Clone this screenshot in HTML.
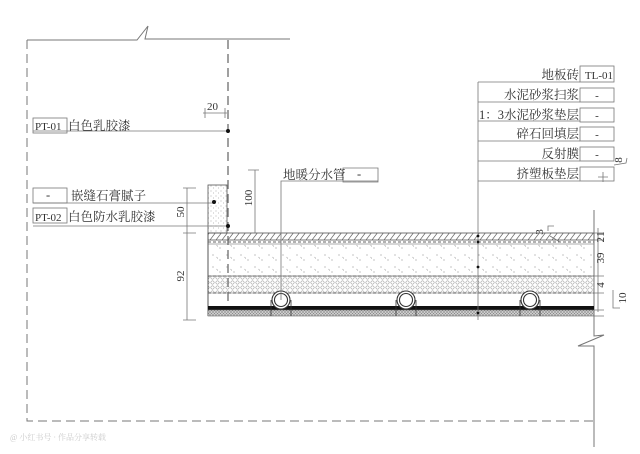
<!DOCTYPE html><html><head><meta charset="utf-8"><style>html,body{margin:0;padding:0;background:#fff}svg{display:block}text{font-family:"Liberation Serif","Noto Serif CJK SC",serif;fill:#333}</style></head><body>
<svg width="640" height="454" viewBox="0 0 640 454" xmlns="http://www.w3.org/2000/svg">
<defs>
<pattern id="hat" width="6" height="8" patternUnits="userSpaceOnUse"><path d="M0 8L6 0" stroke="#666" stroke-width="0.7"/></pattern>
<pattern id="dots" width="14" height="12" patternUnits="userSpaceOnUse"><circle cx="3" cy="3" r="0.6" fill="#999"/><circle cx="10" cy="8" r="0.6" fill="#999"/><path d="M6 5l2 1-1 1" stroke="#aaa" fill="none" stroke-width="0.5"/></pattern>
<pattern id="circ" width="5" height="5" patternUnits="userSpaceOnUse"><circle cx="2.5" cy="2.5" r="1.7" fill="none" stroke="#888" stroke-width="0.5"/></pattern>
<pattern id="xps" width="3" height="3" patternUnits="userSpaceOnUse"><rect width="3" height="3" fill="#ccc"/><path d="M0 3L3 0M0 0L3 3" stroke="#888" stroke-width="0.5"/></pattern>
<pattern id="sk" width="5" height="5" patternUnits="userSpaceOnUse"><circle cx="1" cy="1" r="0.5" fill="#999"/><circle cx="3.5" cy="3" r="0.5" fill="#aaa"/></pattern>
</defs>
<g stroke="#777" fill="none" stroke-width="1">
<path d="M27 40H137L148 26L145 39H290"/>
<path d="M27 40V421H594" stroke-dasharray="9,5"/>
<path d="M228 40V320" stroke-dasharray="9,5" stroke-width="1.4"/>
<path d="M594 210V336L604 335L578 346L594 346V447"/>
</g>
<rect x="208" y="233" width="386" height="7" fill="url(#hat)" stroke="#555" stroke-width="0.8"/>
<line x1="208" y1="242" x2="594" y2="242" stroke="#666" stroke-dasharray="3,2"/>
<rect x="208" y="244" width="386" height="32" fill="url(#dots)" stroke="#777" stroke-width="0.6"/>
<rect x="208" y="276" width="386" height="17" fill="url(#circ)" stroke="#777" stroke-width="0.6"/>
<line x1="208" y1="276" x2="594" y2="276" stroke="#666" stroke-dasharray="3,2"/>
<line x1="208" y1="293" x2="594" y2="293" stroke="#666" stroke-dasharray="3,2"/>
<line x1="208" y1="233" x2="208" y2="316" stroke="#555"/>
<rect x="208" y="306" width="386" height="4" fill="#111"/>
<rect x="208" y="310" width="386" height="6" fill="url(#xps)" stroke="#666" stroke-width="0.6"/>
<g stroke="#333" fill="#fff" stroke-width="1.1">
<circle cx="281" cy="300" r="9"/><circle cx="281" cy="300" r="6.5"/>
<circle cx="406" cy="300" r="9"/><circle cx="406" cy="300" r="6.5"/>
<circle cx="530" cy="300" r="9"/><circle cx="530" cy="300" r="6.5"/>
<path d="M271 300V316M291 300V316M396 300V316M416 300V316M520 300V316M540 300V316" fill="none" stroke-width="0.8"/>
</g>
<rect x="208" y="185" width="19" height="48" fill="url(#sk)" stroke="#555" stroke-width="0.8"/>
<g stroke="#777" fill="none" stroke-width="0.8">
<rect x="33" y="118" width="34" height="15"/><path d="M33 131H228"/>
<rect x="33" y="188" width="34" height="15"/><path d="M33 203H214"/>
<rect x="33" y="208" width="34" height="15"/><path d="M33 226H228"/>
<path d="M203 113H227M205 108V118M225 108V118"/>
<path d="M248 170H259M255 170V233"/>
<path d="M183 188H196M183 233H196M183 320H196M187 188V320"/>
<path d="M281 300V181H378M343 168H378V182H343Z"/>
</g>
<g fill="#111"><circle cx="228" cy="131" r="2"/><circle cx="214" cy="202" r="2"/><circle cx="228" cy="226" r="2"/></g>
<g font-size="12.5">
<text x="35" y="130" font-size="11">PT-01</text><text x="68" y="130">白色乳胶漆</text>
<text x="46" y="199">-</text><text x="71" y="200">嵌缝石膏腻子</text>
<text x="35" y="221" font-size="11">PT-02</text><text x="68" y="221">白色防水乳胶漆</text>
<text x="207" y="110" font-size="11">20</text>
<text x="283" y="179">地暖分水管</text><text x="357" y="178">-</text>
<text transform="translate(252,198) rotate(-90)" font-size="11" text-anchor="middle">100</text>
<text transform="translate(184,212) rotate(-90)" font-size="11" text-anchor="middle">50</text>
<text transform="translate(184,276) rotate(-90)" font-size="11" text-anchor="middle">92</text>
</g>
<g stroke="#777" fill="none" stroke-width="0.8">
<path d="M478 82V320"/>
<path d="M478 82H580M478 102H580M478 121H580M478 141H580M478 161H580M478 181H580"/>
<rect x="580" y="66" width="34" height="16"/><rect x="580" y="88" width="34" height="14"/><rect x="580" y="108" width="34" height="14"/><rect x="580" y="127" width="34" height="14"/><rect x="580" y="147" width="34" height="14"/><rect x="580" y="167" width="34" height="14"/>
<path d="M614 165L626 163L627 158M603 172V182M598 177H608"/>
<path d="M598 228V312M594 233H604M594 240H604M594 276H604M594 293H604M594 310H604M594 316H604"/>
<path d="M548 231V226H554M550 236L560 242"/>
</g>
<g fill="#111"><circle cx="478" cy="236" r="1.4"/><circle cx="478" cy="242" r="1.4"/><circle cx="478" cy="267" r="1.4"/><circle cx="478" cy="313" r="1.4"/></g>
<g font-size="12.5" text-anchor="end">
<text x="579" y="79">地板砖</text><text x="613" y="79" font-size="11">TL-01</text>
<text x="579" y="99">水泥砂浆扫浆</text><text x="579" y="119">1：3水泥砂浆垫层</text><text x="579" y="138">碎石回填层</text><text x="579" y="158">反射膜</text><text x="579" y="178">挤塑板垫层</text>
</g>
<g font-size="11" text-anchor="middle"><text x="597" y="99">-</text><text x="597" y="119">-</text><text x="597" y="138">-</text><text x="597" y="158">-</text></g>
<g font-size="11" text-anchor="middle">
<text transform="translate(622,160) rotate(-90)">8</text>
<text transform="translate(543,232) rotate(-90)">3</text>
<text transform="translate(604,237) rotate(-90)">21</text>
<text transform="translate(604,258) rotate(-90)">39</text>
<text transform="translate(604,285) rotate(-90)">4</text>
<text transform="translate(626,298) rotate(-90)">10</text>
</g>
<path d="M613 290V308L620 308" stroke="#777" fill="none" stroke-width="0.8"/>
<text x="10" y="440" font-size="8" style="fill:#ccc">@ 小红书号 · 作品分享转载</text>
</svg>
</body></html>
